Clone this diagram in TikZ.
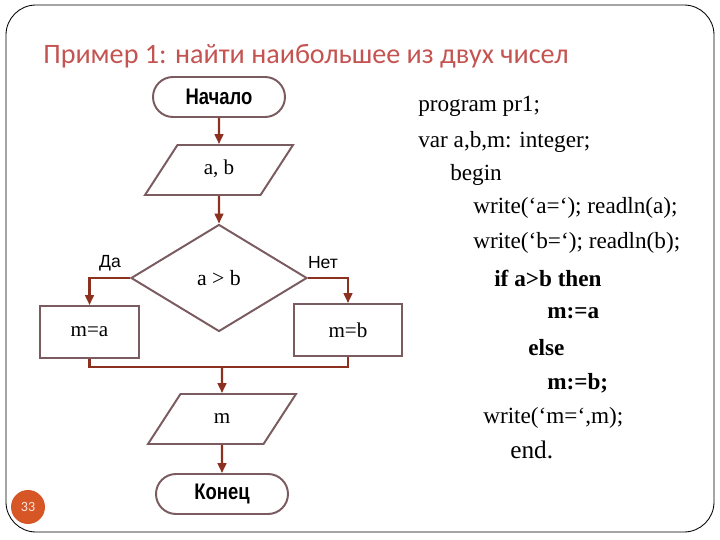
\documentclass[tikz,border=0pt]{standalone}
\usepackage{fontspec}
\setmainfont{Liberation Serif}
\newfontfamily\titlefont{Carlito}
\newfontfamily\labelfont{Liberation Sans}
\newfontfamily\narrowfont[FakeStretch=0.82]{Liberation Sans}
\usetikzlibrary{shapes.geometric, arrows.meta, positioning, calc}
\definecolor{titlered}{RGB}{196, 84, 82}
\definecolor{shapegray}{RGB}{122, 92, 96}
\definecolor{flowred}{RGB}{140, 48, 32}
\definecolor{pageorange}{RGB}{214, 86, 38}

\begin{document}
\begin{tikzpicture}[
    terminal/.style={rectangle, rounded corners=0.5cm, draw=shapegray, line width=1.4pt,
                     minimum width=3.3cm, minimum height=1cm,
                     font=\narrowfont\bfseries\fontsize{16}{18}\selectfont},
    io/.style={trapezium, trapezium left angle=57, trapezium right angle=123,
               trapezium stretches body, draw=shapegray, line width=1.4pt,
               text height=0.35cm, text depth=0.1cm, inner ysep=0.4cm,
               minimum width=3.7cm, font=\fontsize{15}{18}\selectfont},
    decision/.style={diamond, draw=shapegray, line width=1.4pt, inner sep=0pt,
                     minimum width=4.4cm, minimum height=2.675cm,
                     font=\fontsize{15.5}{18}\selectfont},
    process/.style={rectangle, draw=shapegray, line width=1.4pt,
                    minimum height=1.3cm, font=\fontsize{15}{18}\selectfont},
    fl/.style={-{Triangle[length=0.25cm, width=0.22cm]}, line width=1.5pt, flowred},
    ln/.style={line width=1.5pt, flowred},
    lbl/.style={font=\labelfont\fontsize{12.5}{14}\selectfont},
    code/.style={anchor=west, inner sep=0pt, font=\fontsize{16.5}{20}\selectfont}
]
\useasboundingbox (0,0) rectangle (18,13.5);

% Slide frame
\draw[line width=0.6pt, rounded corners=0.75cm] (0.15,0.2) rectangle (17.85,13.375);

\node[anchor=west, inner sep=0pt, text=titlered,
      font=\titlefont\fontsize{20}{24}\selectfont] (title) at (1.075,12.1)
      {Пример 1: найти наибольшее из двух чисел};

% Flowchart blocks
\node[terminal] (start) at (5.475, 11.075) {Начало};
\node[io]       (ab)    at (5.475, 9.25)   {a, b};
\node[decision] (cond)  at (5.475, 6.55)   {a > b};
\node[process, minimum width=2.475cm] (ma) at (2.2375, 5.2) {m=a};
\node[process, minimum width=2.7cm]   (mb) at (8.7, 5.25)   {m=b};
\node[io]       (out)   at (5.55, 3.025)   {m};
\node[terminal] (stop)  at (5.55, 1.15)    {Конец};

\coordinate (join) at (5.55, 4.325);

% Branch labels
\node[lbl] (yes) at (2.75, 6.925)  {Да};
\node[lbl] (no)  at (8.075, 6.925) {Нет};

% Flows
\draw[fl] (start) -- (ab);
\draw[fl] (ab) -- (cond);
\draw[fl] (cond.west) -| (ma.north);
\draw[fl] (cond.east) -| (mb.north);
\draw[ln] (ma.south) |- (join) -| (mb.south);
\draw[fl] (join) -- (out);
\draw[fl] (out) -- (stop);

% Program text
\node[code] (l1)  at (10.45, 10.85)  {program pr1;};
\node[code] (l2)  at (10.45, 9.95)   {var a,b,m: integer;};
\node[code] (l3)  at (11.25, 9.125)  {begin};
\node[code] (l4)  at (11.825, 8.3)   {write(‘a=‘); readln(a);};
\node[code] (l5)  at (11.825, 7.425) {write(‘b=‘); readln(b);};
\node[code, font=\bfseries\fontsize{16.5}{20}\selectfont] (l6) at (12.35, 6.55)  {if a>b then};
\node[code, font=\bfseries\fontsize{16.5}{20}\selectfont] (l7) at (13.675, 5.675) {m:=a};
\node[code, font=\bfseries\fontsize{16.5}{20}\selectfont] (l8) at (13.2, 4.8)    {else};
\node[code, font=\bfseries\fontsize{16.5}{20}\selectfont] (l9) at (13.675, 3.925) {m:=b;};
\node[code] (l10) at (12.075, 3.05)  {write(‘m=‘,m);};
\node[code, font=\fontsize{18}{21}\selectfont] (l11) at (12.75, 2.25) {end.};

% Slide number
\node[circle, fill=pageorange, minimum size=0.85cm, inner sep=0pt,
      text=white!85!pageorange, font=\titlefont\fontsize{10}{11}\selectfont] (page) at (0.7, 0.825) {33};

\end{tikzpicture}
\end{document}
